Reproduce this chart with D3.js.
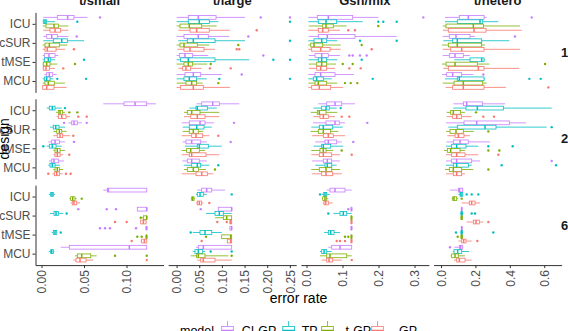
<!DOCTYPE html>
<html>
<head>
<meta charset="utf-8">
<script src="https://cdn.jsdelivr.net/npm/d3@7"></script>
<style>
  body { margin: 0; background: #fff; }
  svg { font-family: "Liberation Sans", Arial, Helvetica, sans-serif; display: block; }
</style>
</head>
<body>
<svg id="chart" width="568" height="331"></svg>
<script>
// facets, categories
var facets = ["t/small", "t/large", "Gsn/mix", "t/hetero"];
var designs = ["1", "2", "6"];
var methods = ["ICU", "cSUR", "tMSE", "MCU"];
var models = ["CI-GP", "TP", "t-GP", "GP"];
var modelColors = ["#C77CFF", "#00BFC4", "#7CAE00", "#F8766D"];
var xTicks = [[0, 0.05, 0.10], [0, 0.05, 0.10, 0.15, 0.20, 0.25], [0, 0.1, 0.2, 0.3], [0, 0.2, 0.4, 0.6]];
var xFormats = [".2f", ".2f", ".1f", ".1f"];

// box stats per design -> method -> model : [lower whisker, q1, median, q3, upper whisker, ...outliers]
var statsSmall = [
  [ // design 1
    [[0.002,0.0186,0.0308,0.0382,0.0539,0.0688],[0.0014,0.0021,0.0041,0.0061,0.0159,0.0421],[0.0014,0.0053,0.0147,0.0198,0.0315],[0.0021,0.010,0.0159,0.0226,0.0315]],
    [[0.0021,0.0061,0.012,0.0186,0.0315,0.0414],[0.0021,0.0139,0.0238,0.0304,0.050],[0.0014,0.0041,0.0092,0.021,0.0304],[0.0014,0.0041,0.0068,0.0171,0.0276,0.0382]],
    [[0.0014,0.0033,0.0088,0.0159,0.0198],[0.0014,0.0033,0.008,0.0108,0.0159,0.050],[0.0014,0.0021,0.0061,0.010,0.0186,0.0394],[0.0014,0.0021,0.0053,0.0092,0.0159,0.0256]],
    [[0.0033,0.0061,0.0092,0.0132,0.0179],[0.0014,0.0033,0.0061,0.010,0.0139,0.0186,0.0524],[0.0014,0.0041,0.008,0.0151,0.0276],[0.0014,0.0014,0.0061,0.0147,0.0296]]
  ],
  [ // design 2
    [[0.0727,0.0971,0.110,0.1238,0.1347],[0.0061,0.0092,0.0127,0.0159,0.0238,0.0276],[0.0171,0.0198,0.0218,0.0249,0.0276,0.0327,0.0421],[0.0179,0.0198,0.0238,0.0288,0.0335,0.0433,0.0532]],
    [[0.0315,0.0355,0.0382,0.0421,0.0473,0.0265,0.0532],[0.010,0.0139,0.0167,0.0206,0.0276],[0.014,0.0179,0.021,0.0238,0.0296],[0.014,0.0186,0.0218,0.0249,0.0335,0.0374]],
    [[0.008,0.012,0.0159,0.021,0.0276,0.0382],[0.0061,0.0092,0.0127,0.0171,0.0238,0.0021],[0.014,0.0159,0.0186,0.0218,0.0276],[0.0139,0.0159,0.0186,0.0218,0.0256,0.0327]],
    [[0.0088,0.012,0.0147,0.0198,0.0265],[0.008,0.010,0.0127,0.0159,0.0218],[0.0139,0.0159,0.0186,0.021,0.0256],[0.0128,0.0151,0.0179,0.021,0.0249,0.008,0.0288,0.0343]]
  ],
  [ // design 6
    [[0.0727,0.0774,0.0786,0.1238,0.1238],[0.0085,0.0108,0.0123,0.0139,0.0159],[0.0327,0.0343,0.0367,0.0394,0.0414,0.0473],[0.0343,0.0362,0.0382,0.0414,0.0453]],
    [[0.1127,0.1127,0.1238,0.1238,0.1238,0.0433,0.0767,0.0876],[0.010,0.0147,0.0171,0.0198,0.0256,0.0296],[0.1178,0.1198,0.1238,0.1238,0.1238,0.1167],[0.1167,0.1167,0.1198,0.1229,0.1238,0.0865,0.1002]],
    [[0.1218,0.1229,0.1238,0.1238,0.1238,0.0688,0.0747,0.0806,0.1112],[0.012,0.0139,0.0159,0.0179,0.0186,0.0226],[0.1218,0.1229,0.1238,0.1238,0.1238,0.1127,0.1178],[0.1167,0.1178,0.121,0.1238,0.1238,0.1061]],
    [[0.0226,0.0327,0.1033,0.1238,0.1238],[0.0085,0.0108,0.012,0.0139,0.0151],[0.0394,0.0421,0.0473,0.0579,0.0649,0.0865,0.1238],[0.0374,0.0406,0.0453,0.0524,0.0609,0.1238]]
  ]
];

var statsLarge = [
  [
    [[0,0.0258,0.0479,0.087,0.151,0.1857,0.2503],[0,0.0258,0.0501,0.0722,0.092,0.2503],[0,0.0075,0.028,0.0554,0.0885],[0.0037,0.0296,0.0443,0.0722,0.1179,0.1768]],
    [[0,0.0163,0.0479,0.070,0.1163,0.1583],[0.0037,0.0236,0.0369,0.0848,0.151,0.2503],[0,0.0075,0.0163,0.0457,0.0722,0.1362],[0.0015,0.0163,0.0296,0.0605,0.0848,0.1327,0.1384]],
    [[0,0.006,0.0185,0.0355,0.070,0.1914],[0,0.009,0.0258,0.0848,0.1605,0.2135,0.2503],[0,0.0163,0.0258,0.0355,0.0678,0.0753],[0.0037,0.0134,0.0207,0.0311,0.0554,0.0737,0.1194]],
    [[0,0.0185,0.0369,0.0532,0.0996,0.1437],[0,0.0163,0.028,0.0443,0.0664,0.0943,0.2503],[0,0.0207,0.0333,0.0443,0.0576,0.092],[0,0.009,0.0369,0.059,0.1179]]
  ],
  [
    [[0.0443,0.0554,0.0797,0.0943,0.1384],[0.028,0.0428,0.0457,0.0678,0.0885],[0.0163,0.0236,0.0333,0.0517,0.0943],[0.0163,0.0311,0.0457,0.0627,0.0943]],
    [[0.0112,0.028,0.0517,0.0627,0.0826,0.1267],[0.0134,0.028,0.0443,0.0605,0.0775],[0.0134,0.028,0.0369,0.0479,0.059],[0.0112,0.0333,0.0428,0.0576,0.0722,0.092]],
    [[0.0134,0.0207,0.0333,0.0532,0.0664,0.1194],[0.0185,0.0457,0.0501,0.070,0.0996],[0.0112,0.0222,0.0311,0.0501,0.0627],[0.0112,0.028,0.0333,0.0649,0.0943]],
    [[0.0126,0.0236,0.0333,0.0501,0.0664],[0.0163,0.0333,0.0457,0.0532,0.0722,0.092],[0.0163,0.0236,0.0369,0.0479,0.0649,0.0848],[0.0112,0.0428,0.0554,0.0678,0.081]]
  ],
  [
    [[0.0457,0.0554,0.0664,0.0775,0.1068],[0.0428,0.0457,0.0517,0.059,0.0664,0.1216],[0.0312,0.0334,0.0355,0.0384,0.0407],[0.0428,0.0457,0.0501,0.0554,0.059,0.0722]],
    [[0.092,0.092,0.1216,0.1216,0.1216,0.0532],[0.0649,0.0848,0.0943,0.1031,0.1216],[0.0848,0.1031,0.1106,0.1216,0.1216],[0.1163,0.1179,0.1194,0.1216,0.1216,0.0898,0.1106]],
    [[0.1163,0.1179,0.1216,0.1216,0.1216],[0.0355,0.0517,0.0627,0.0775,0.0996,0.0311],[0.0996,0.0996,0.1194,0.1216,0.1216,0.0649],[0.112,0.112,0.1194,0.1216,0.1216,0.0554]],
    [[0.0428,0.0479,0.059,0.1216,0.1216],[0.0355,0.0406,0.0479,0.0576,0.0627,0.0753,0.1216],[0.0311,0.0443,0.0479,0.0627,0.1141,0.1216],[0.0457,0.0532,0.059,0.0848,0.1216]]
  ]
];

var statsMix = [
  [
    [[0.005,0.030,0.0606,0.1283,0.1994,0.3244],[0.005,0.0328,0.0542,0.0839,0.1561,0.1994,0.2133,0.2506],[0.0064,0.045,0.0542,0.0744,0.1117,0.1994],[0.005,0.0328,0.045,0.0606,0.093,0.1161,0.1347]],
    [[0.0058,0.0328,0.0578,0.1347,0.2506],[0.005,0.0208,0.0422,0.0561,0.0856,0.1486,0.2506],[0.005,0.0117,0.0208,0.045,0.095,0.1533],[0.005,0.0144,0.0394,0.0653,0.095,0.1811]],
    [[0.0064,0.0236,0.0422,0.0606,0.093,0.1189,0.1283,0.1486,0.1672],[0.0058,0.0328,0.0422,0.0561,0.0856,0.1533],[0.0064,0.0283,0.0422,0.0561,0.0819,0.1006,0.1283],[0.0064,0.0283,0.0394,0.0561,0.0792,0.1189,0.1506]],
    [[0.005,0.0236,0.0394,0.0792,0.1319],[0.005,0.0189,0.0283,0.0467,0.070,0.1839],[0.005,0.0236,0.0328,0.0561,0.0856,0.1069,0.1228,0.1411],[0.005,0.0144,0.0356,0.0672,0.1022]]
  ],
  [
    [[0.0328,0.0561,0.0792,0.0978,0.1347],[0.0194,0.0422,0.0542,0.0633,0.0839,0.095],[0.0117,0.030,0.0356,0.0542,0.0856],[0.0194,0.0375,0.0467,0.0606,0.0792,0.0978,0.1189]],
    [[0.0178,0.0542,0.0792,0.0911,0.1069,0.1689],[0.0133,0.0356,0.0467,0.0728,0.1006],[0.0114,0.0328,0.0467,0.0672,0.0883],[0.0156,0.0467,0.0606,0.0744,0.1069]],
    [[0.0244,0.0514,0.0606,0.0839,0.0978,0.130],[0.0194,0.0422,0.0467,0.0672,0.1022],[0.0133,0.0375,0.0467,0.0542,0.0744,0.0978],[0.0133,0.0356,0.0467,0.070,0.093,0.1256]],
    [[0.0156,0.0467,0.0578,0.070,0.093],[0.0244,0.0514,0.0578,0.070,0.0839],[0.0133,0.0356,0.0542,0.070,0.093],[0.0156,0.0422,0.0542,0.0728,0.0978]]
  ],
  [
    [[0.0561,0.0653,0.0792,0.1069,0.1256],[0.0422,0.0478,0.0514,0.0561,0.0653,0.0375],[0.0422,0.045,0.0514,0.0561,0.0606],[0.045,0.0486,0.0533,0.0606,0.0728]],
    [[0.1233,0.1233,0.1256,0.1256,0.1256,0.1161],[0.0744,0.0931,0.1022,0.1117,0.1256,0.0606],[0.1233,0.1233,0.1256,0.1256,0.1256],[0.1233,0.1233,0.1256,0.1256,0.1256]],
    [[0.1233,0.1233,0.1256,0.1256,0.1256],[0.0489,0.0606,0.0672,0.0764,0.0931],[0.1233,0.1233,0.1256,0.1256,0.1256,0.1069,0.1161],[0.1233,0.1233,0.1256,0.1256,0.1256,0.0839,0.093,0.1069]],
    [[0.0606,0.070,0.093,0.1256,0.1256],[0.0375,0.0422,0.0489,0.0561,0.070],[0.0375,0.0561,0.0653,0.1117,0.1256],[0.0422,0.0561,0.0626,0.0728,0.0978,0.1256]]
  ]
];

var statsHetero = [
  [
    [[0.0233,0.1064,0.1587,0.25,0.2657,0.5273],[0.0233,0.0948,0.2267,0.2424,0.3333],[0.0097,0.0291,0.188,0.2462,0.4593],[0.0116,0.0426,0.1919,0.2616,0.469]],
    [[0.0097,0.0484,0.0872,0.1686,0.1977,0.4302],[0.0136,0.0678,0.0948,0.2364,0.3973],[0.0058,0.0426,0.0948,0.2364,0.2558],[0.0097,0.0562,0.1202,0.25,0.4593]],
    [[0.0097,0.0484,0.0814,0.1298,0.1686],[0.0775,0.1686,0.2364,0.25,0.2558],[0.0058,0.0291,0.0814,0.211,0.2808,0.6047],[0.0136,0.0426,0.2171,0.25,0.4554]],
    [[0.0058,0.0329,0.0678,0.1202,0.188,0.2461],[0.0233,0.0948,0.1064,0.25,0.2558,0.5136,0.5795],[0.0097,0.0756,0.1298,0.2424,0.2657],[0.0271,0.0678,0.1298,0.25,0.3779,0.624]]
  ],
  [
    [[0.0717,0.1298,0.1492,0.2422,0.3721],[0.0717,0.1453,0.2112,0.3624,0.6434],[0.0329,0.0562,0.0717,0.1143,0.1395,0.2035],[0.0329,0.0678,0.0911,0.1202,0.1783,0.2461,0.3081]],
    [[0.0291,0.1337,0.2074,0.3973,0.4942],[0.0426,0.0948,0.2558,0.3198,0.6143,0.6434],[0.0291,0.0523,0.0872,0.1298,0.1919,0.2752],[0.0369,0.0814,0.1008,0.1337,0.1686]],
    [[0.0329,0.0717,0.1105,0.1589,0.2849],[0.0291,0.062,0.0911,0.1453,0.2171,0.2752,0.4167],[0.0174,0.0368,0.0562,0.1105,0.1395,0.2752,0.3391],[0.0291,0.062,0.0911,0.1395,0.2171,0.3333]],
    [[0.0291,0.062,0.0911,0.1783,0.2267,0.6434],[0.0291,0.0717,0.0911,0.1589,0.1783,0.3527,0.6686],[0.0233,0.0484,0.0717,0.1202,0.188,0.2752],[0.0291,0.0717,0.0911,0.1202,0.1395]]
  ],
  [
    [[0.0523,0.1008,0.1085,0.126,0.1298],[0.1008,0.1105,0.1163,0.126,0.1298,0.1492,0.1783,0.2171],[0.062,0.068,0.0756,0.0911,0.1008,0.1202],[0.1202,0.1647,0.1783,0.1977,0.2267]],
    [[0.1163,0.1182,0.1202,0.1221,0.124],[0.1105,0.1163,0.1202,0.124,0.1298,0.1783,0.1977],[0.1124,0.1163,0.1202,0.124,0.1279],[0.1492,0.188,0.2035,0.2229,0.2461,0.2752]],
    [[0.1163,0.1182,0.1202,0.1221,0.124],[0.1124,0.1163,0.1202,0.124,0.1279,0.0872,0.3042],[0.1124,0.1163,0.1202,0.124,0.1279,0.0969],[0.1008,0.1202,0.1318,0.1453,0.1783,0.2112]],
    [[0.0775,0.1066,0.1143,0.126,0.1298,0.0523],[0.0698,0.0756,0.0969,0.1202,0.1647],[0.0562,0.062,0.0814,0.1008,0.1395],[0.0756,0.0911,0.1066,0.1395,0.1783]]
  ]
];

var allStats = [statsSmall, statsLarge, statsMix, statsHetero];

// layout
var panelW = 128, panelH = 80;
var colX = [35.5, 168.2, 300.9, 433.6];
var rowY = [12.4, 98.8, 185.1];
var xDomains = [[-0.00706, 0.1435], [-0.01854, 0.264], [-0.01556, 0.34], [-0.043, 0.701]];
var textCol = "#4D4D4D";

var svg = d3.select("#chart");
svg.append("rect").attr("width", 568).attr("height", 331).attr("fill", "#fff");

facets.forEach(function(facet, c) {
  var x = d3.scaleLinear().domain(xDomains[c]).range([0, panelW]);

  designs.forEach(function(design, r) {
    var y = d3.scalePoint().domain(methods).range([0, panelH]).padding(0.6);
    var slot = 0.9 * y.step() / models.length;
    var g = svg.append("g").attr("transform", "translate(" + colX[c] + "," + rowY[r] + ")");

    methods.forEach(function(method, m) {
      models.forEach(function(model, k) {
        var d = allStats[c][r][m][k];
        var cy = y(method) + (k - 1.5) * slot;
        var col = modelColors[k];
        var bg = g.append("g").attr("class", "box");

        // outliers
        bg.selectAll("circle").data(d.slice(5)).join("circle")
          .attr("cx", function(v) { return x(v); })
          .attr("cy", cy)
          .attr("r", 1.2)
          .attr("fill", col);

        // whiskers
        bg.append("line").attr("x1", x(d[0])).attr("x2", x(d[1])).attr("y1", cy).attr("y2", cy)
          .attr("stroke", col).attr("stroke-width", 0.8);
        bg.append("line").attr("x1", x(d[3])).attr("x2", x(d[4])).attr("y1", cy).attr("y2", cy)
          .attr("stroke", col).attr("stroke-width", 0.8);

        // box
        var h = slot - 0.5;
        bg.append("rect")
          .attr("x", x(d[1])).attr("y", cy - h / 2)
          .attr("width", Math.max(0.5, x(d[3]) - x(d[1]))).attr("height", h)
          .attr("fill", "#fff").attr("stroke", col).attr("stroke-width", 0.8);

        // median
        bg.append("line").attr("x1", x(d[2])).attr("x2", x(d[2]))
          .attr("y1", cy - h / 2).attr("y2", cy + h / 2)
          .attr("stroke", col).attr("stroke-width", 1.5);
      });
    });

    // left axis only on first column
    if (c === 0) {
      var ya = g.append("g").call(d3.axisLeft(y).tickSize(3).tickSizeOuter(0).tickPadding(2));
      ya.select(".domain").attr("stroke", "#333");
      ya.selectAll(".tick line").attr("stroke", "#333");
      ya.selectAll("text").attr("font-size", 12).attr("fill", textCol)
        .attr("font-family", "Liberation Sans, Arial, sans-serif");
    }

    // bottom axis only on last row
    if (r === designs.length - 1) {
      var xa = g.append("g").attr("transform", "translate(0," + panelH + ")")
        .call(d3.axisBottom(x).tickValues(xTicks[c]).tickFormat(d3.format(xFormats[c])).tickSize(3).tickSizeOuter(0));
      xa.select(".domain").attr("stroke", "#333");
      xa.selectAll(".tick line").attr("stroke", "#333");
      xa.selectAll("text")
        .attr("transform", "rotate(-90)")
        .attr("text-anchor", "end")
        .attr("x", -5).attr("y", 0).attr("dy", "0.35em")
        .attr("font-size", 12).attr("fill", textCol)
        .attr("font-family", "Liberation Sans, Arial, sans-serif");
    }

    // right strip
    if (c === facets.length - 1) {
      svg.append("text")
        .attr("x", 564.5).attr("y", rowY[r] + panelH / 2)
        .attr("dy", "0.35em")
        .attr("text-anchor", "middle")
        .attr("font-size", 13).attr("font-weight", "bold").attr("fill", "#1A1A1A")
        .text(design);
    }
  });

  // top strip
  svg.append("text")
    .attr("x", colX[c] + panelW / 2).attr("y", 5)
    .attr("text-anchor", "middle")
    .attr("font-size", 13).attr("font-weight", "bold").attr("fill", "#1A1A1A")
    .text(facet);
});

// axis titles
svg.append("text")
  .attr("x", (colX[0] + colX[3] + panelW) / 2).attr("y", 303)
  .attr("text-anchor", "middle").attr("font-size", 14).attr("fill", "#000")
  .text("error rate");

svg.append("text")
  .attr("transform", "translate(9," + (rowY[0] + rowY[2] + panelH) / 2 + ") rotate(-90)")
  .attr("text-anchor", "middle").attr("font-size", 14).attr("fill", "#000")
  .text("design");

// legend
var legend = svg.append("g");
legend.append("text").attr("x", 180).attr("y", 335).attr("font-size", 12.5).attr("fill", "#000").text("model");
var keyX = [227.5, 288.6, 327.5, 377.5];
var labelX = [241.7, 301.7, 345.5, 399];
models.forEach(function(model, k) {
  var kg = legend.append("g").attr("transform", "translate(" + keyX[k] + ",0)");
  kg.append("line").attr("x1", 0).attr("x2", 0).attr("y1", 321).attr("y2", 326.5)
    .attr("stroke", modelColors[k]).attr("stroke-width", 0.8);
  kg.append("rect").attr("x", -5.8).attr("y", 326.5).attr("width", 11.6).attr("height", 8)
    .attr("fill", "#fff").attr("stroke", modelColors[k]).attr("stroke-width", 0.8);
  kg.append("line").attr("x1", -5.8).attr("x2", 5.8).attr("y1", 330.5).attr("y2", 330.5)
    .attr("stroke", modelColors[k]).attr("stroke-width", 1.5);
  legend.append("text").attr("x", labelX[k]).attr("y", 335).attr("font-size", 12.5).attr("fill", "#000").text(model);
});
</script>
</body>
</html>
